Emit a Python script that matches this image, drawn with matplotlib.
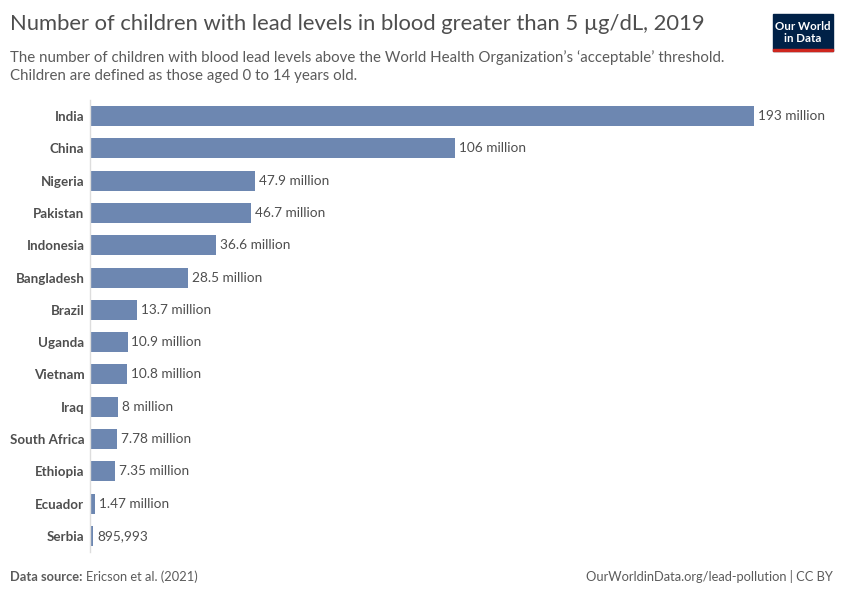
import matplotlib
matplotlib.use("Agg")
import matplotlib.pyplot as plt
from matplotlib.patches import Rectangle

countries = ["India", "China", "Nigeria", "Pakistan", "Indonesia", "Bangladesh", "Brazil",
             "Uganda", "Vietnam", "Iraq", "South Africa", "Ethiopia", "Ecuador", "Serbia"]
values = [193e6, 106e6, 47.9e6, 46.7e6, 36.6e6, 28.5e6, 13.7e6,
          10.9e6, 10.8e6, 8e6, 7.78e6, 7.35e6, 1.47e6, 895993]
labels = ["193 million", "106 million", "47.9 million", "46.7 million", "36.6 million",
          "28.5 million", "13.7 million", "10.9 million", "10.8 million", "8 million",
          "7.78 million", "7.35 million", "1.47 million", "895,993"]

plt.rcParams['font.family'] = ['Lato', 'DejaVu Sans']
W, H = 850, 600
fig = plt.figure(figsize=(8.5, 6), dpi=100)

ax_left, ax_right = 90, 754
ax_top, ax_bot = 100, 552
ax = fig.add_axes([ax_left / W, 1 - ax_bot / H, (ax_right - ax_left) / W, (ax_bot - ax_top) / H])
n = len(countries)
ys = list(range(n))
ax.barh(ys, values, height=0.62, color="#6d87b1", zorder=2)
ax.set_ylim(n - 0.5 + 0.0, -0.5)
ax.set_xlim(0, max(values))
for y, v, lab in zip(ys, values, labels):
    ax.text(v + max(values) * 0.006, y, lab, va="center", ha="left", fontsize=9.8, color="#4e4e4e")
ax.set_yticks(ys)
ax.set_yticklabels(countries, fontsize=9.6, fontweight="bold", color="#4e4e4e")
ax.tick_params(axis="y", length=0, pad=4)
ax.set_xticks([])
for s in ["top", "right", "bottom"]:
    ax.spines[s].set_visible(False)
ax.spines["left"].set_color("#dddddd")
ax.spines["left"].set_linewidth(1)
ax.patch.set_alpha(0)

fig.text(10 / W, 1 - 30 / H, "Number of children with lead levels in blood greater than 5 µg/dL, 2019",
         fontsize=15.85, color="#4e4e4e", va="baseline", ha="left")
fig.text(10 / W, 1 - 62 / H, "The number of children with blood lead levels above the World Health Organization’s ‘acceptable’ threshold.",
         fontsize=10.8, color="#5b5b5b", va="baseline", ha="left")
fig.text(10 / W, 1 - 80 / H, "Children are defined as those aged 0 to 14 years old.",
         fontsize=10.8, color="#5b5b5b", va="baseline", ha="left")

t_src = fig.text(10 / W, 1 - 581 / H, "Data source:", fontsize=9.25, color="#5b5b5b", fontweight="bold", va="baseline")
fig.canvas.draw()
bb = t_src.get_window_extent(renderer=fig.canvas.get_renderer())
fig.text((bb.x1 + 3.5) / W, 1 - 581 / H, "Ericson et al. (2021)", fontsize=9.25, color="#5b5b5b", va="baseline")
fig.text(833 / W, 1 - 581 / H, "OurWorldinData.org/lead-pollution | CC BY", fontsize=9.25, color="#5b5b5b",
         va="baseline", ha="right")

# logo
lx0, ly0, lx1, ly1 = 773, 14, 833, 51
fig.patches.append(Rectangle((lx0 / W, 1 - ly1 / H), (lx1 - lx0) / W, (ly1 - ly0) / H,
                             transform=fig.transFigure, color="#002147", zorder=5))
fig.patches.append(Rectangle((lx0 / W, 1 - ly1 / H), (lx1 - lx0) / W, 2.5 / H,
                             transform=fig.transFigure, color="#ce261e", zorder=6))
fig.text(803 / W, 1 - 27 / H, "Our World", fontsize=8.3, color="white", ha="center", va="center",
         fontweight="bold", zorder=7)
fig.text(803 / W, 1 - 39 / H, "in Data", fontsize=8.3, color="white", ha="center", va="center",
         fontweight="bold", zorder=7)

fig.savefig("out.png", dpi=100, facecolor="white")
